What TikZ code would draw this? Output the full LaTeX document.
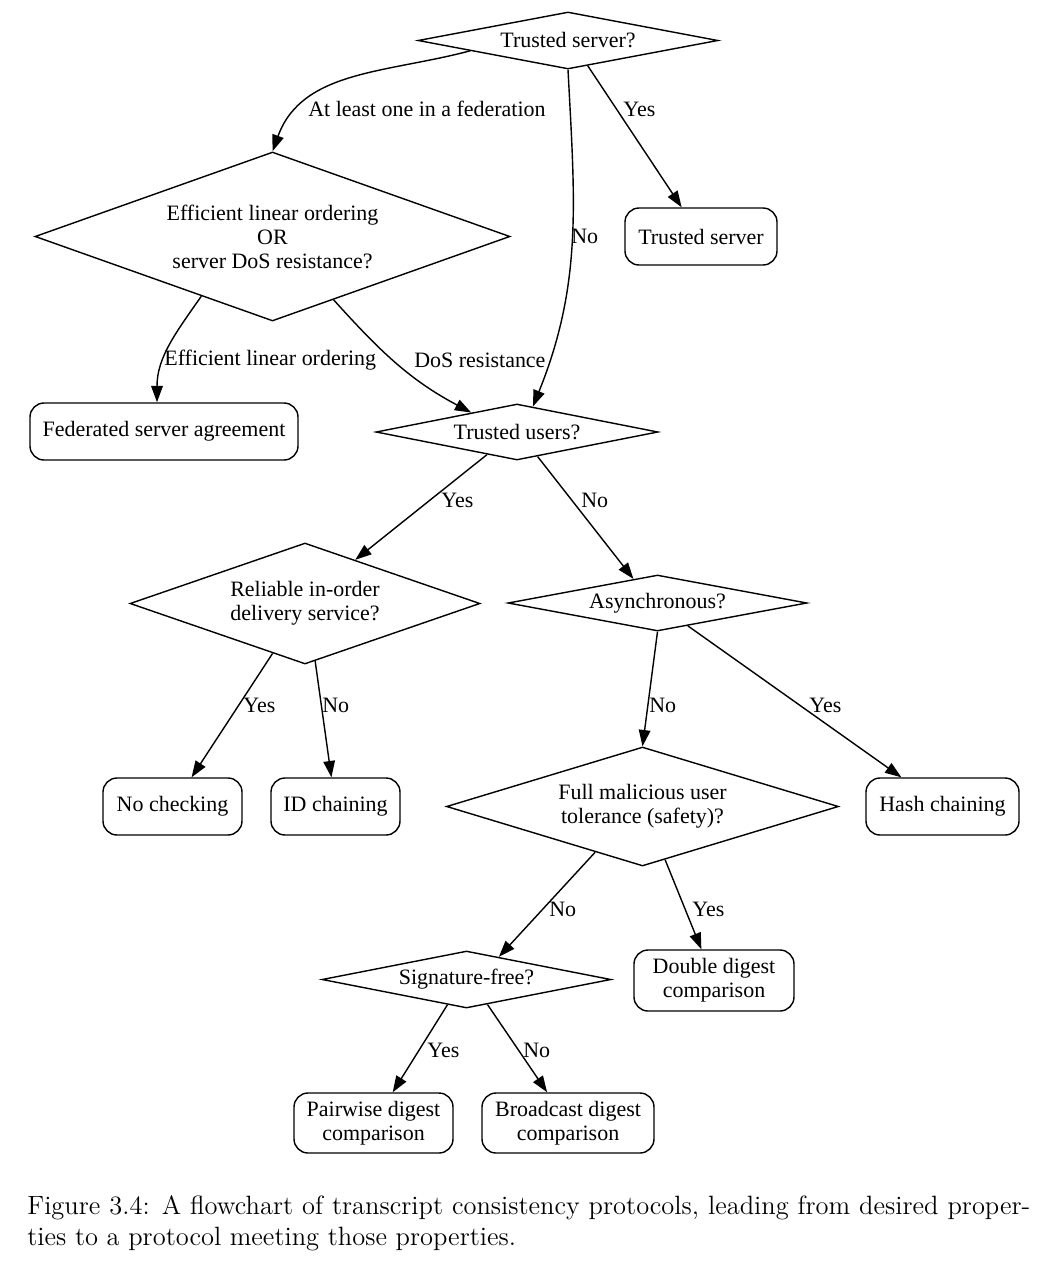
\documentclass[tikz,border=0pt]{standalone}
\usepackage{fontspec}
\newfontfamily\gvfont{Liberation Serif}
\newfontfamily\capfont{lmroman12-regular.otf}
\usetikzlibrary{shapes.geometric,arrows.meta}
\begin{document}
\begin{tikzpicture}[x=0.02cm,y=-0.02cm,
  gv/.style={font=\gvfont\fontsize{12.5}{13.7}\selectfont},
  dia/.style 2 args={draw, diamond, line width=0.8pt, inner sep=0pt,
    minimum width=#1*0.02cm, minimum height=#2*0.02cm},
  dlab/.style={gv, align=center, inner sep=0pt},
  box/.style 2 args={draw, rounded corners=8pt, line width=0.8pt, inner sep=0pt,
    gv, align=center, minimum width=#1*0.02cm, minimum height=#2*0.02cm},
  elab/.style={gv, anchor=west, inner sep=0pt},
  arr/.style={line width=0.8pt, -{Triangle[length=9.3pt,width=6.6pt]}}]
\useasboundingbox (0,0) rectangle (1058,1278);
% decision nodes
\node[dia={300}{57}, label={[dlab]center:Trusted server?}] (ts) at (568,40.5) {};
\node[dia={475}{169}, label={[dlab]center:{Efficient linear ordering\\OR\\server DoS resistance?}}] (eff) at (272.5,236.5) {};
\node[dia={282}{56}, label={[dlab]center:Trusted users?}] (tu) at (517,432) {};
\node[dia={350}{121}, label={[dlab]center:{Reliable in-order\\delivery service?}}] (rel) at (305,603.5) {};
\node[dia={299}{56}, label={[dlab]center:Asynchronous?}] (async) at (657.5,603) {};
\node[dia={392}{119}, label={[dlab]center:{Full malicious user\\tolerance (safety)?}}] (full) at (642.5,806.5) {};
\node[dia={289}{57}, label={[dlab]center:Signature-free?}] (sig) at (466.5,979.5) {};
% outcome nodes
\node[box={152}{57}] (tsb) at (701,236.5) {Trusted server};
\node[box={268}{57}] (fed) at (164,431.5) {Federated server agreement};
\node[box={139}{57}] (nc) at (172.5,806.5) {No checking};
\node[box={129}{57}] (id) at (335.5,806.5) {ID chaining};
\node[box={153}{57}] (hash) at (942.5,806.5) {Hash chaining};
\node[box={160}{61}] (dbl) at (714,980.5) {Double digest\\comparison};
\node[box={159}{60}] (pair) at (373.5,1123) {Pairwise digest\\comparison};
\node[box={172}{60}] (broad) at (568,1123) {Broadcast digest\\comparison};
% connectors
\draw[arr] (ts.186.7) to[out=195,in=70] (eff.north);
\draw[arr] (ts.south) to[out=-87,in=68] (tu.58);
\draw[arr] (ts.-52) -- (tsb);
\draw[arr] (eff.220) to[out=235,in=90] ([xshift=-7*0.02cm]fed.north);
\draw[arr] (eff.-46) to[out=-48,in=152] (tu.157);
\draw[arr] (tu.217.5) -- (rel.41);
\draw[arr] (tu.-50) -- (async.135);
\draw[arr] (rel.237.6) -- (nc);
\draw[arr] (rel.-80) -- (id);
\draw[arr] (async.south) -- (full.north);
\draw[arr] (async.-37) -- (hash);
\draw[arr] (full.224.4) -- (sig.35.4);
\draw[arr] (full.-67) -- (dbl);
\draw[arr] (sig.233) -- (pair);
\draw[arr] (sig.-50.6) -- (broad);
% edge labels
\node[elab] (l1) at (308,109) {At least one in a federation};
\node[elab] (l2) at (623,109) {Yes};
\node[elab] (l3) at (571,236) {No};
\node[elab] (l4) at (164,360) {Efficient linear ordering};
\node[elab] (l5) at (414,360) {DoS resistance};
\node[elab] (l6) at (441,500) {Yes};
\node[elab] (l7) at (581,500) {No};
\node[elab] (l8) at (243,705) {Yes};
\node[elab] (l9) at (322,705) {No};
\node[elab] (l10) at (649,705) {No};
\node[elab] (l11) at (809,705) {Yes};
\node[elab] (l12) at (549,909) {No};
\node[elab] (l13) at (692,909) {Yes};
\node[elab] (l14) at (427,1050) {Yes};
\node[elab] (l15) at (523,1050) {No};
% caption
\node[anchor=base west, inner sep=0pt, text width=1003*0.02cm, align=justify,
  font=\capfont\fontsize{15.07}{18.2}\selectfont] (cap) at (27,1214)
  {Figure 3.4: A flowchart of transcript consistency protocols, leading from desired proper-\linebreak ties to a protocol meeting those properties.};
\end{tikzpicture}
\end{document}
